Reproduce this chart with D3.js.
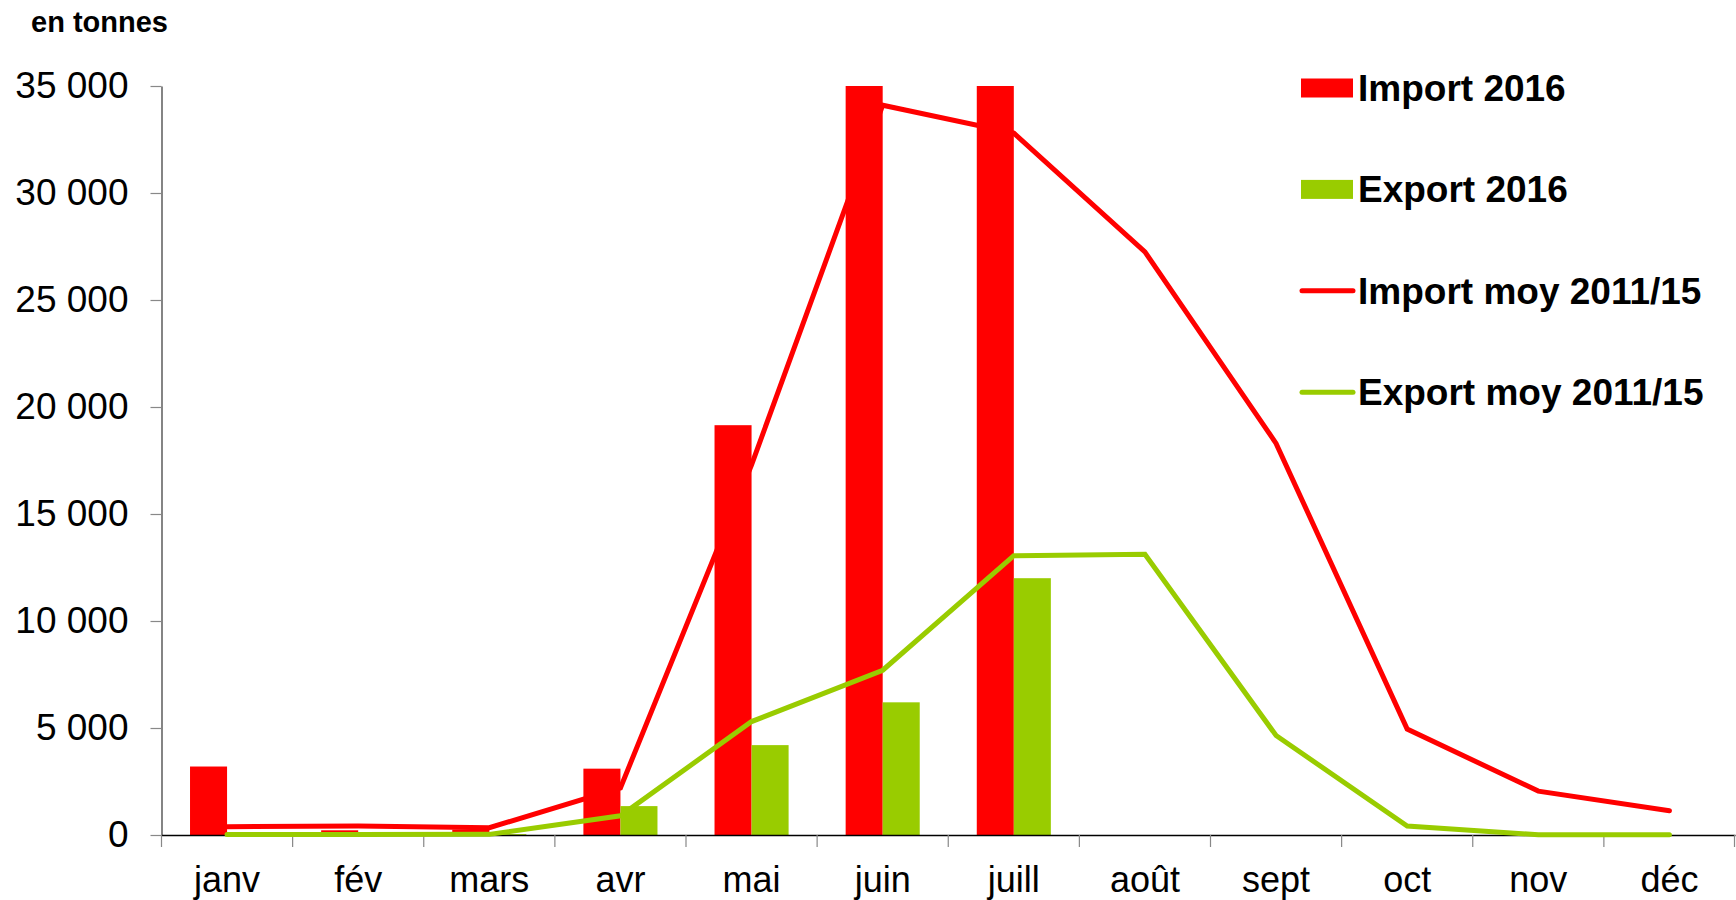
<!DOCTYPE html>
<html>
<head>
<meta charset="utf-8">
<script src="https://cdn.jsdelivr.net/npm/d3@7"></script>
<style>
  body { margin: 0; background: #fff; }
  text { font-family: "Liberation Sans", Arial, sans-serif; fill: #000; }
</style>
</head>
<body>
<div id="wrapper"></div>
<script>
// data
const months = ["janv", "fév", "mars", "avr", "mai", "juin", "juill", "août", "sept", "oct", "nov", "déc"];
const import2016 = [3200, 220, 250, 3100, 19150, 35000, 35000, 0, 0, 0, 0, 0];
const export2016 = [0, 0, 40, 1350, 4200, 6200, 12000, 0, 0, 0, 0, 0];
const importMoy = [390, 420, 340, 2200, 17300, 34100, 32800, 27250, 18300, 4950, 2050, 1130];
const exportMoy = [20, 20, 30, 900, 5300, 7700, 13050, 13120, 4650, 420, 10, 10];
const yTicks = [0, 5000, 10000, 15000, 20000, 25000, 30000, 35000];
const legendLabels = ["Import 2016", "Export 2016", "Import moy 2011/15", "Export moy 2011/15"];

const red = "#ff0000";
const green = "#99cc00";

// dimensions
let dimensions = {
  width: 1736,
  height: 900,
  margin: { top: 86, right: 1, bottom: 65, left: 161.5 },
};
dimensions.boundedWidth = dimensions.width - dimensions.margin.left - dimensions.margin.right;
dimensions.boundedHeight = dimensions.height - dimensions.margin.top - dimensions.margin.bottom;

const wrapper = d3.select("#wrapper")
  .append("svg")
  .attr("width", dimensions.width)
  .attr("height", dimensions.height);

const bounds = wrapper.append("g")
  .attr("transform", `translate(${dimensions.margin.left},${dimensions.margin.top})`);

// scales
const xScale = d3.scaleBand()
  .domain(months)
  .range([0, dimensions.boundedWidth])
  .padding(0);

const subScale = d3.scaleBand()
  .domain(["import", "export"])
  .range([0, xScale.bandwidth()])
  .paddingInner(0)
  .paddingOuter(0.77);

const yScale = d3.scaleLinear()
  .domain([0, 35000])
  .range([dimensions.boundedHeight, 0])
  .clamp(true);

const frLocale = d3.formatLocale({ decimal: ",", thousands: " ", grouping: [3], currency: ["", " €"] });
const fmt = frLocale.format(",d");

// bars
const barGroups = [
  { key: "import", values: import2016, color: red },
  { key: "export", values: export2016, color: green },
];
barGroups.forEach((g) => {
  bounds.append("g")
    .selectAll("rect")
    .data(g.values.map((v, i) => ({ month: months[i], value: v })))
    .join("rect")
    .attr("x", (d) => xScale(d.month) + subScale(g.key))
    .attr("width", subScale.bandwidth())
    .attr("y", (d) => yScale(d.value))
    .attr("height", (d) => yScale(0) - yScale(d.value))
    .attr("fill", g.color);
});

// axes
const yAxis = bounds.append("g")
  .call(d3.axisLeft(yScale).tickValues(yTicks).tickFormat(fmt).tickSize(11).tickSizeOuter(0).tickPadding(22));
yAxis.select(".domain").attr("stroke", "#333").attr("stroke-width", 1.2);
yAxis.selectAll(".tick line").attr("stroke", "#888").attr("stroke-width", 1.2);
yAxis.selectAll(".tick text").style("font-size", "37px").attr("fill", "#000");

const xAxis = bounds.append("g")
  .attr("transform", `translate(0,${dimensions.boundedHeight})`)
  .call(d3.axisBottom(xScale).tickSize(0).tickPadding(31));
xAxis.select(".domain").attr("stroke", "#000").attr("stroke-width", 1.5);
xAxis.selectAll(".tick text").style("font-size", "36px").attr("fill", "#000");

// x ticks at category boundaries
bounds.append("g")
  .selectAll("line")
  .data(months.map((m) => xScale(m)).concat([dimensions.boundedWidth - 0.5]))
  .join("line")
  .attr("x1", (d) => d)
  .attr("x2", (d) => d)
  .attr("y1", dimensions.boundedHeight)
  .attr("y2", dimensions.boundedHeight + 12)
  .attr("stroke", "#888")
  .attr("stroke-width", 1.2);

// lines
const lineGen = d3.line()
  .x((d, i) => xScale(months[i]) + xScale.bandwidth() / 2)
  .y((d) => yScale(d));

[{ values: importMoy, color: red }, { values: exportMoy, color: green }].forEach((s) => {
  bounds.append("path")
    .datum(s.values)
    .attr("d", lineGen)
    .attr("fill", "none")
    .attr("stroke", s.color)
    .attr("stroke-width", 5)
    .attr("stroke-linecap", "round");
});

// unit label
wrapper.append("text")
  .attr("x", 31)
  .attr("y", 32)
  .style("font-size", "29px")
  .style("font-weight", "bold")
  .text("en tonnes");

// legend
const legendColors = [red, green, red, green];
const legend = wrapper.append("g").attr("transform", "translate(1301,88)");
legendLabels.forEach((label, i) => {
  const row = legend.append("g").attr("transform", `translate(0,${i * 101.4})`);
  if (i < 2) {
    row.append("rect")
      .attr("x", 0).attr("y", -9.5)
      .attr("width", 52).attr("height", 19)
      .attr("fill", legendColors[i]);
  } else {
    row.append("line")
      .attr("x1", 1).attr("x2", 52)
      .attr("y1", 0).attr("y2", 0)
      .attr("stroke", legendColors[i])
      .attr("stroke-width", 5)
      .attr("stroke-linecap", "round");
  }
  row.append("text")
    .attr("x", 57)
    .attr("y", 13)
    .style("font-size", "37px")
    .style("font-weight", "bold")
    .text(label);
});
</script>
</body>
</html>
